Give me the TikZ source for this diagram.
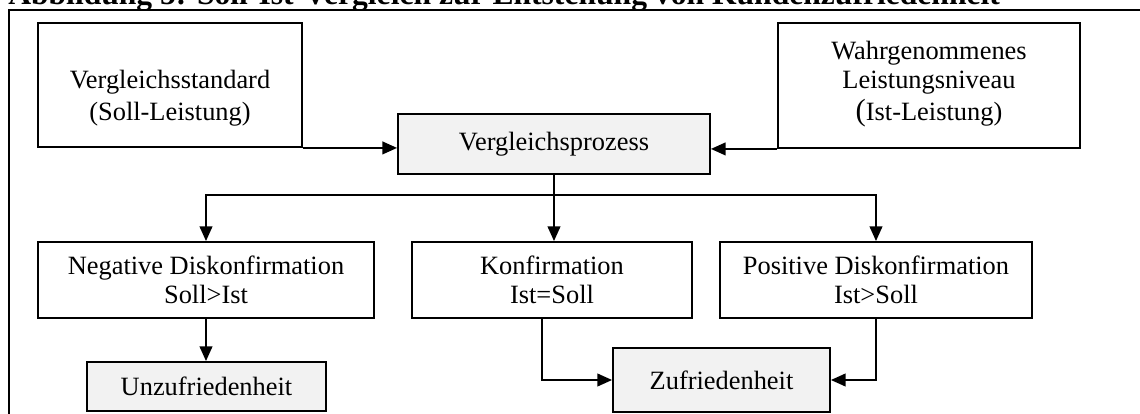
\documentclass[tikz,border=0pt]{standalone}
\usepackage{fontspec}
\setmainfont{Liberation Serif}
\usetikzlibrary{arrows.meta,calc}
\definecolor{gfill}{HTML}{F2F2F2}
\newcommand{\bodyfont}{\fontsize{19.8}{22}\selectfont}
\begin{document}
\begin{tikzpicture}[x=0.75pt,y=-0.75pt,
  box/.style={draw=black, line width=1.4pt, fill=white, inner sep=0pt, align=center, font=\bodyfont},
  gbox/.style={box, fill=gfill},
  conn/.style={line width=1.4pt, -{Triangle[length=11pt,width=9.5pt]}},
  plain/.style={line width=1.4pt},
  txt/.style={inner sep=0pt, align=center, font=\bodyfont}]
\useasboundingbox (0,0) rectangle (1140,414);
\clip (0,0) rectangle (1140,414);

% title (cut off at top) and frame
\node[anchor=base west, inner sep=0pt, font=\bfseries\fontsize{23.7}{28}\selectfont] (title) at (8,4)
  {Abbildung 5: Soll-Ist-Vergleich zur Entstehung von Kundenzufriedenheit};
\draw[line width=2.2pt] (9,420) -- (9,10) -- (1145,10);

% boxes
\node[box, minimum width=198pt, minimum height=93pt] (vs) at (170,85) {};
\node[txt] (vstext) at (170,98) {Vergleichsstandard\\[2pt](Soll-Leistung)};
\node[box, minimum width=226.5pt, minimum height=93.75pt] (wl) at (929,85.5) {};
\node[txt] (wltext) at (929,84) {Wahrgenommenes\\Leistungsniveau\\[2pt]{\fontsize{23}{23}\selectfont(}Ist-Leistung)};
\node[gbox, minimum width=234pt, minimum height=45pt] (vp) at (554,144) {Vergleichsprozess};
\node[box, minimum width=252pt, minimum height=57pt] (neg) at (206,280) {Negative Diskonfirmation\\Soll>Ist};
\node[box, minimum width=210pt, minimum height=57pt] (kon) at (552,280) {Konfirmation\\Ist=Soll};
\node[box, minimum width=234pt, minimum height=57pt] (pos) at (876,280) {Positive Diskonfirmation\\Ist>Soll};
\node[gbox, minimum width=179.25pt, minimum height=36.75pt] (unz) at (206.5,386.5) {Unzufriedenheit};
\node[gbox, minimum width=162.75pt, minimum height=48pt] (zuf) at (721.5,380) {Zufriedenheit};

% connectors
\draw[conn] (vs.south east) -- (vs.south east -| vp.west);
\draw[conn] (wl.south west) -- (wl.south west -| vp.east);
\coordinate (j) at ($(vp.south)+(0,20)$);
\draw[plain] (vp.south) -- (j);
\draw[conn] (vp.south) -- (vp.south |- kon.north);
\draw[conn] (j) -| (neg.north);
\draw[conn] (j) -| (pos.north);
\draw[conn] (neg.south) -- (neg.south |- unz.north);
\draw[conn] ([xshift=-7.5pt]kon.south) |- (zuf.west);
\draw[conn] (pos.south) |- (zuf.east);
\end{tikzpicture}
\end{document}
